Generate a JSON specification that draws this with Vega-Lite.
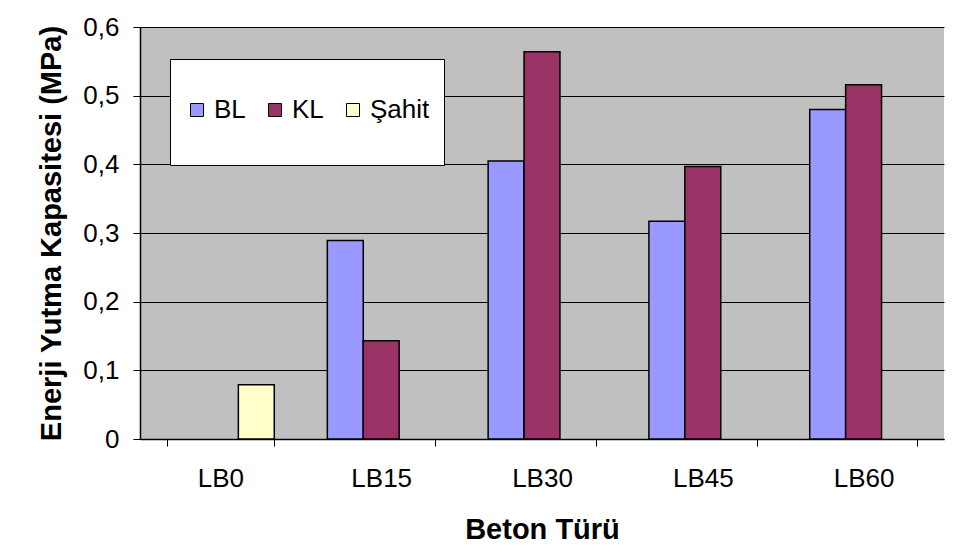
{
  "$schema": "https://vega.github.io/schema/vega-lite/v6.json",
  "width": 804,
  "height": 412,
  "autosize": {"type": "none"},
  "padding": {"left": 140, "top": 27, "right": 18, "bottom": 113},
  "background": "white",
  "config": {
    "view": {"fill": "#C0C0C0", "stroke": null},
    "font": "Liberation Sans"
  },
  "data": {
    "values": [
      {"tur": "LB0", "seri": "Şahit", "deger": 0.079},
      {"tur": "LB15", "seri": "BL", "deger": 0.289},
      {"tur": "LB15", "seri": "KL", "deger": 0.143},
      {"tur": "LB30", "seri": "BL", "deger": 0.405},
      {"tur": "LB30", "seri": "KL", "deger": 0.564},
      {"tur": "LB45", "seri": "BL", "deger": 0.317},
      {"tur": "LB45", "seri": "KL", "deger": 0.397},
      {"tur": "LB60", "seri": "BL", "deger": 0.48},
      {"tur": "LB60", "seri": "KL", "deger": 0.516}
    ]
  },
  "mark": {"type": "bar", "stroke": "black", "strokeWidth": 1.5},
  "encoding": {
    "x": {
      "field": "tur",
      "type": "nominal",
      "sort": ["LB0", "LB15", "LB30", "LB45", "LB60"],
      "scale": {"paddingInner": 0.33, "paddingOuter": 0.165},
      "axis": {
        "title": "Beton Türü",
        "labelAngle": 0,
        "tickBand": "extent",
        "tickSize": 7,
        "tickColor": "black",
        "domainColor": "black",
        "domainWidth": 1.5,
        "labelFontSize": 26,
        "labelColor": "black",
        "labelPadding": 19,
        "labelBaseline": "top",
        "titleFontSize": 29,
        "titleFontWeight": "bold",
        "titleColor": "black",
        "titlePadding": 24,
        "grid": false
      }
    },
    "xOffset": {
      "field": "seri",
      "type": "nominal",
      "sort": ["BL", "KL", "Şahit"],
      "scale": {"domain": ["BL", "KL", "Şahit"], "paddingInner": 0, "paddingOuter": 0}
    },
    "y": {
      "field": "deger",
      "type": "quantitative",
      "scale": {"domain": [0, 0.6], "nice": false},
      "axis": {
        "title": "Enerji Yutma Kapasitesi (MPa)",
        "values": [0, 0.1, 0.2, 0.3, 0.4, 0.5, 0.6],
        "labelExpr": "datum.value == 0 ? '0' : replace(format(datum.value, '.1f'), '.', ',')",
        "tickSize": 7,
        "tickColor": "black",
        "domainColor": "black",
        "domainWidth": 1.5,
        "labelFontSize": 26,
        "labelColor": "black",
        "labelPadding": 14,
        "grid": true,
        "gridColor": "black",
        "gridWidth": 1,
        "gridOpacity": 1,
        "titleFontSize": 29,
        "titleFontWeight": "bold",
        "titleColor": "black",
        "titlePadding": 16
      }
    },
    "color": {
      "field": "seri",
      "type": "nominal",
      "scale": {"domain": ["BL", "KL", "Şahit"], "range": ["#9999FF", "#993366", "#FFFFCC"]},
      "legend": {
        "title": " ",
        "titleFontSize": 12,
        "titlePadding": 12,
        "orient": "none",
        "legendX": 30,
        "legendY": 32,
        "direction": "horizontal",
        "fillColor": "white",
        "strokeColor": "black",
        "padding": 14,
        "symbolType": "square",
        "symbolSize": 169,
        "symbolStrokeColor": "black",
        "symbolStrokeWidth": 1,
        "symbolOpacity": 1,
        "labelFontSize": 26,
        "labelColor": "black",
        "labelOffset": 4,
        "labelBaseline": "middle",
        "columnPadding": 16,
        "labelExpr": "[datum.label, '']"
      }
    }
  }
}
